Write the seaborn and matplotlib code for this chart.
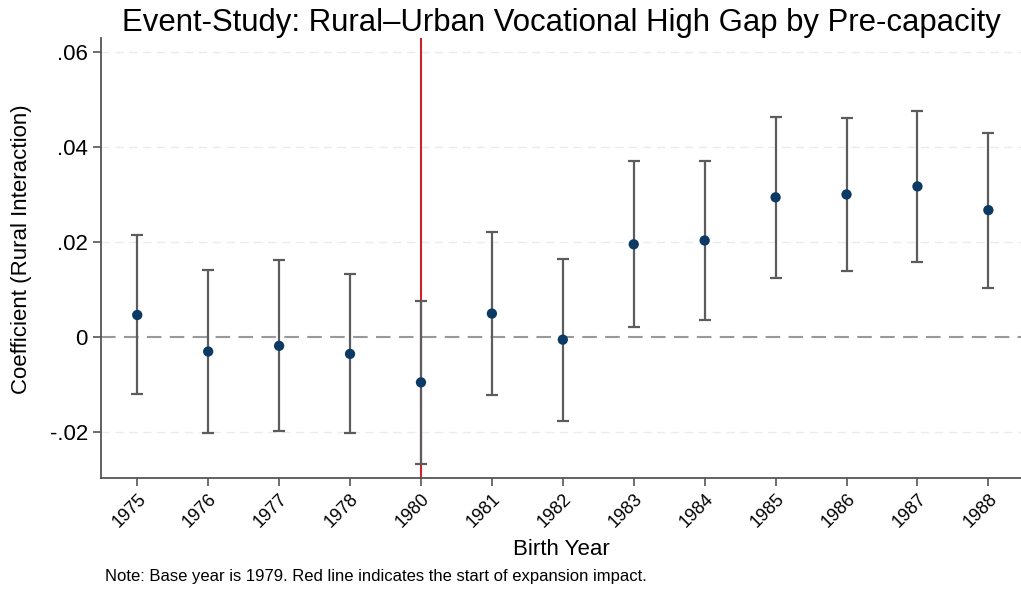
import numpy as np
import pandas as pd
import matplotlib
matplotlib.use("Agg")
import matplotlib.pyplot as plt
import seaborn as sns

years = ["1975", "1976", "1977", "1978", "1980", "1981", "1982",
         "1983", "1984", "1985", "1986", "1987", "1988"]
coef = [0.0046, -0.0031, -0.0019, -0.0036, -0.0096, 0.0049, -0.0006,
        0.0195, 0.0203, 0.0294, 0.0300, 0.0317, 0.0267]
ci_low = [-0.0121, -0.0202, -0.0199, -0.0203, -0.0268, -0.0123, -0.0177,
          0.0020, 0.0036, 0.0124, 0.0138, 0.0157, 0.0103]
ci_high = [0.0214, 0.0141, 0.0161, 0.0133, 0.0076, 0.0221, 0.0165,
           0.0370, 0.0370, 0.0464, 0.0462, 0.0476, 0.0430]
yticks = [-0.02, 0, 0.02, 0.04, 0.06]
ytick_labels = ["-.02", "0", ".02", ".04", ".06"]

df = pd.DataFrame({"year": years, "coef": coef, "lo": ci_low, "hi": ci_high})
df["pos"] = np.arange(len(df))

sns.set_theme(style="white")
plt.rcParams["font.family"] = ["Liberation Sans", "DejaVu Sans"]
plt.rcParams["text.color"] = "black"
plt.rcParams["axes.labelcolor"] = "black"
plt.rcParams["xtick.labelcolor"] = "black"
plt.rcParams["ytick.labelcolor"] = "black"

fig = plt.figure(figsize=(10.21, 5.92), dpi=100)
ax = fig.add_axes([0.099, 0.193, 0.901, 0.743])

# grid lines
for y in yticks:
    if y != 0:
        ax.axhline(y, color="#ebebeb", lw=1, ls=(0, (6, 4)), zorder=0)
ax.axhline(0, color="#999999", lw=1.5, ls=(0, (7, 4)), zorder=1)

# red line at 1980
ax.axvline(years.index("1980"), color="#d0202a", lw=1.5, zorder=2)

# confidence intervals
ax.errorbar(df["pos"], df["coef"],
            yerr=[df["coef"] - df["lo"], df["hi"] - df["coef"]],
            fmt="none", ecolor="#5c5c5c", elinewidth=1.6, capsize=4,
            capthick=1.6, zorder=3)

sns.scatterplot(data=df, x="pos", y="coef", ax=ax, color="#0c3a64",
                s=55, edgecolor="none", zorder=4, legend=False)

ax.set_xlim(-0.51, 12.46)
ax.set_ylim(-0.0297, 0.063)
ax.set_xticks(df["pos"])
ax.set_xticklabels(years, rotation=45, ha="right", rotation_mode="anchor",
                   fontsize=13)
ax.set_yticks(yticks)
ax.set_yticklabels(ytick_labels, fontsize=16)

sns.despine(ax=ax)
for side in ["left", "bottom"]:
    ax.spines[side].set_color("#555555")
    ax.spines[side].set_linewidth(1.3)
ax.tick_params(axis="both", direction="out", length=6, width=1.2,
               color="#555555", left=True, bottom=True)
ax.tick_params(axis="x", pad=3)

ax.set_title("Event-Study: Rural\u2013Urban Vocational High Gap by Pre-capacity",
             fontsize=22.4, pad=5)
ax.set_xlabel("Birth Year", fontsize=16, labelpad=6)
ax.set_ylabel("Coefficient (Rural Interaction)", fontsize=16, labelpad=13)
ax.yaxis.label.set_y(0.52)
fig.text(0.103, 0.027, "Note: Base year is 1979. Red line indicates the start of expansion impact.",
         fontsize=12, ha="left", va="center")

fig.savefig("out.png", dpi=100)
